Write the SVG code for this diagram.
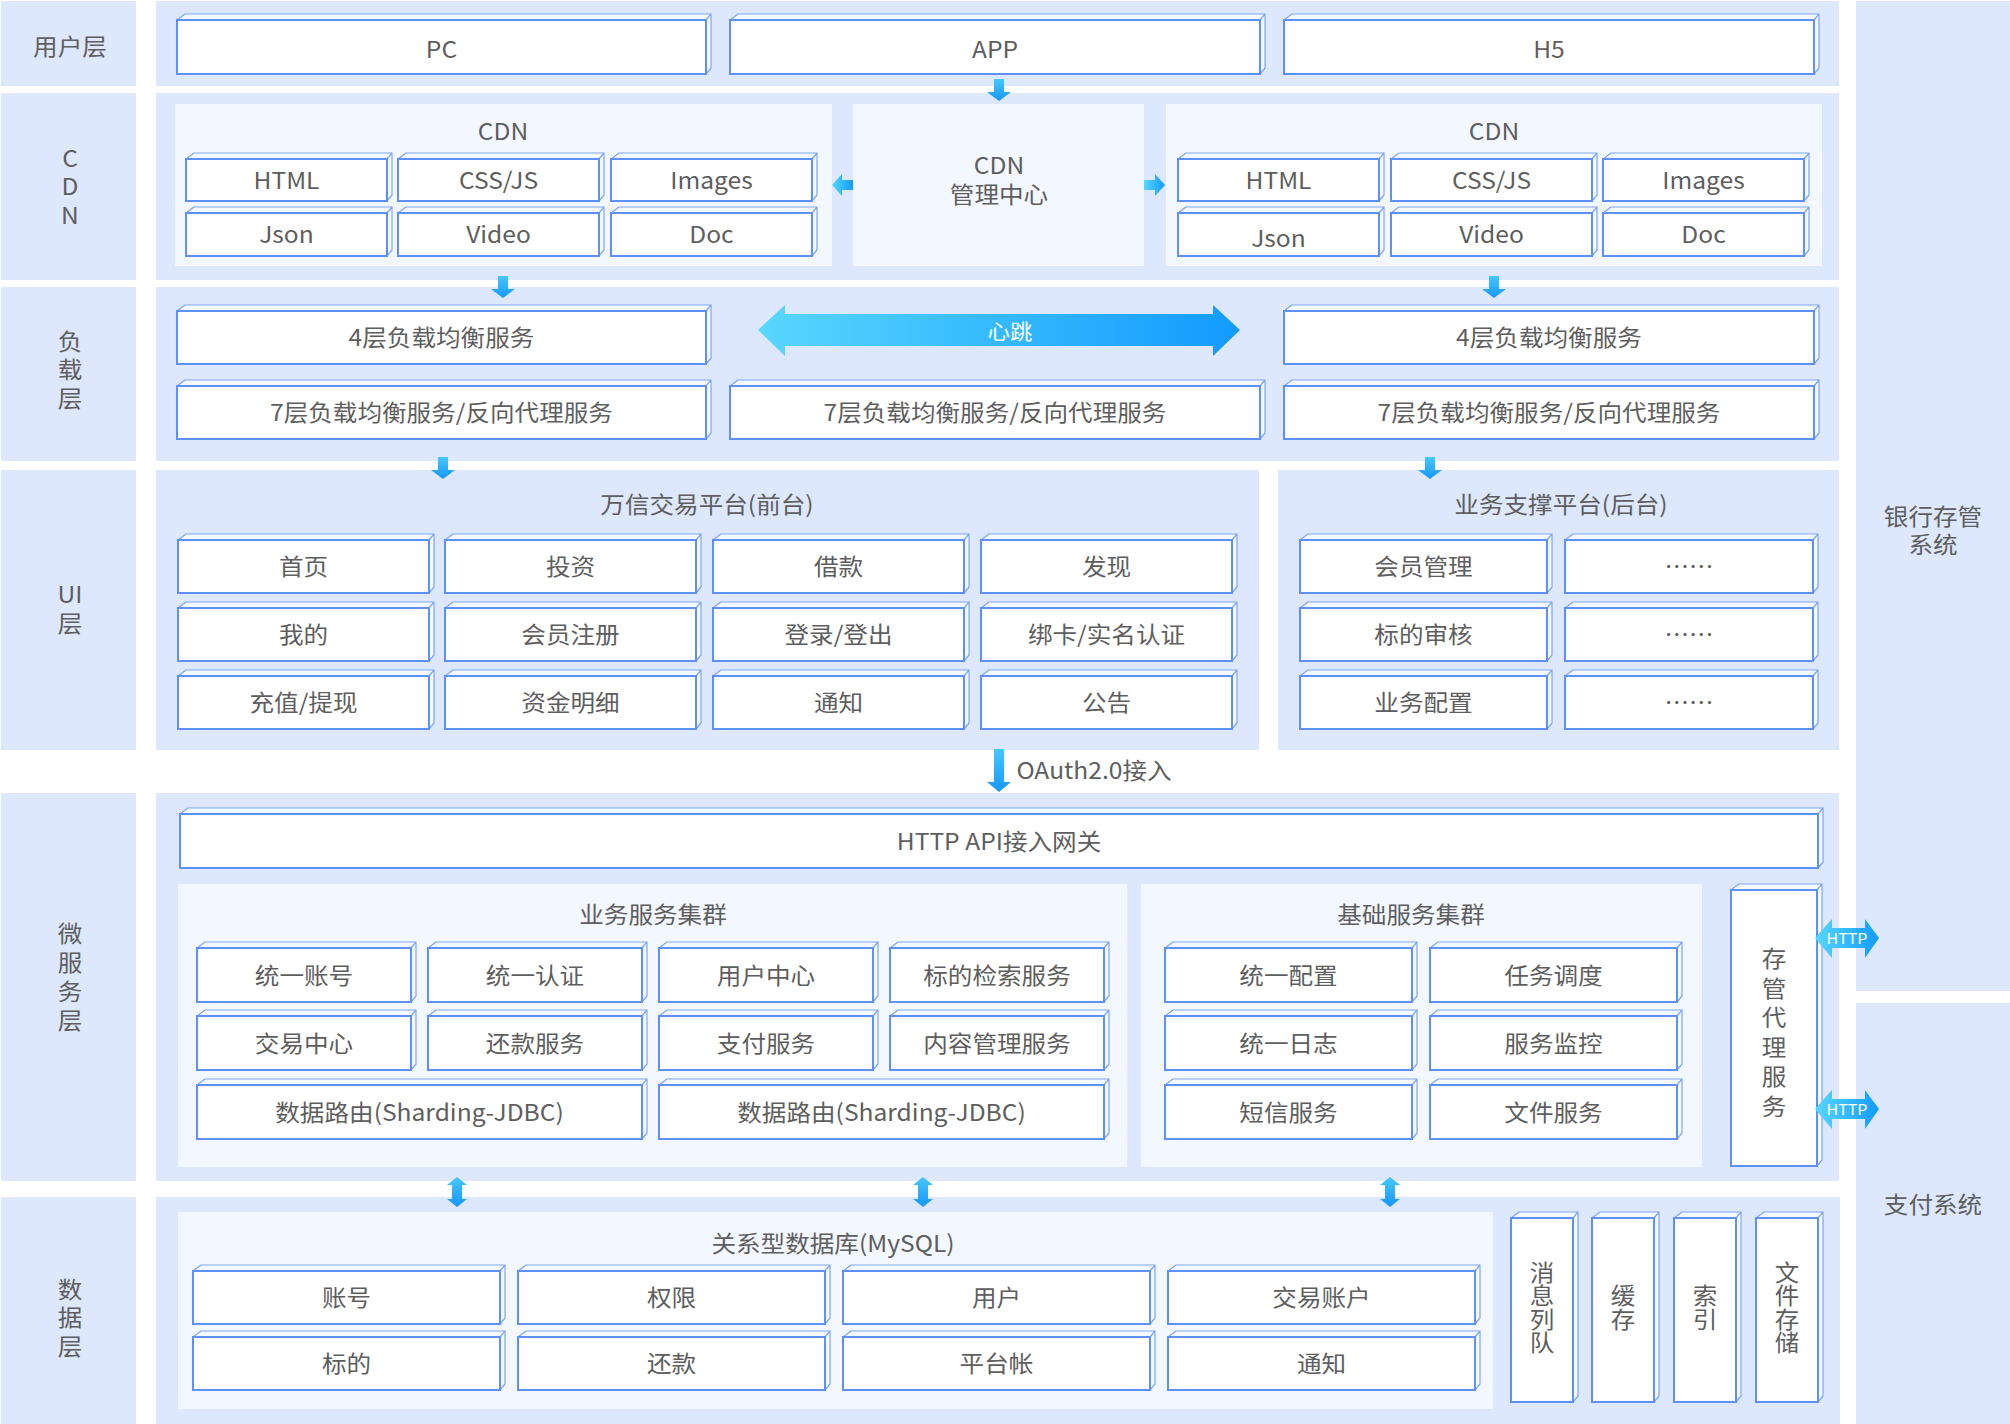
<svg xmlns="http://www.w3.org/2000/svg" width="2010" height="1424" viewBox="0 0 2010 1424">
<style>
.p{fill:#dde7fd}
.q{fill:#f3f7ff}
.b{fill:#fff;stroke:#5d90f8;stroke-width:2}
.f{fill:#f4f8ff;stroke:#7ea6f9;stroke-width:1.2;stroke-linejoin:round}
.t{font-family:"Noto Sans CJK SC","Noto Sans",sans-serif;font-size:23px;fill:#5e5e5e;text-anchor:middle;dominant-baseline:central;transform-box:fill-box;transform-origin:center;transform:translateY(-1.5px) scaleX(1.07)}
.v{writing-mode:vertical-rl;text-orientation:upright;letter-spacing:5.8px}
.vs{writing-mode:vertical-rl;text-orientation:upright;letter-spacing:6.6px}
.vd{writing-mode:vertical-rl;text-orientation:upright;letter-spacing:0.5px}
.w{fill:#fff;font-size:21px}
.h{fill:#fff;font-size:15px}
.av{fill:url(#gv)}
.ah{fill:url(#gh)}
</style>
<defs>
<linearGradient id="gv" x1="0" y1="0" x2="0" y2="1"><stop offset="0" stop-color="#45c8fd"/><stop offset="1" stop-color="#1696fe"/></linearGradient>
<linearGradient id="gh" x1="0" y1="0" x2="1" y2="0"><stop offset="0" stop-color="#58d7fe"/><stop offset="1" stop-color="#129bff"/></linearGradient>
</defs>
<rect width="2010" height="1424" fill="#fff"/>
<g id="panels">
<rect class="p" x="1" y="1" width="135" height="85"/>
<rect class="p" x="1" y="93" width="135" height="187"/>
<rect class="p" x="1" y="287" width="135" height="174"/>
<rect class="p" x="1" y="470" width="135" height="280"/>
<rect class="p" x="1" y="793" width="135" height="388"/>
<rect class="p" x="1" y="1197" width="135" height="227"/>
<rect class="p" x="156" y="1" width="1683" height="85"/>
<rect class="p" x="156" y="93" width="1683" height="187"/>
<rect class="p" x="156" y="287" width="1683" height="174"/>
<rect class="p" x="156" y="470" width="1103" height="280"/>
<rect class="p" x="1278" y="470" width="561" height="280"/>
<rect class="p" x="156" y="793" width="1683" height="388"/>
<rect class="p" x="156" y="1197" width="1684" height="227"/>
<rect class="p" x="1856" y="1" width="154" height="990"/>
<rect class="p" x="1856" y="1003" width="154" height="421"/>
<rect class="q" x="175" y="104" width="657" height="162"/>
<rect class="q" x="853" y="104" width="291" height="162"/>
<rect class="q" x="1166" y="104" width="656" height="162"/>
<rect class="q" x="178" y="884" width="949" height="283"/>
<rect class="q" x="1141" y="884" width="561" height="283"/>
<rect class="q" x="178" y="1212" width="1315" height="197"/>
</g>
<g id="layer-labels">
<text class="t" x="70" y="46">用户层</text>
<text class="t v" x="70" y="191">CDN</text>
<text class="t v" x="70" y="374">负载层</text>
<text class="t" x="70" y="594">UI</text>
<text class="t" x="70" y="623">层</text>
<text class="t v" x="70" y="981">微服务层</text>
<text class="t v" x="70" y="1322">数据层</text>
<text class="t" x="1933" y="516">银行存管</text>
<text class="t" x="1933" y="544">系统</text>
<text class="t" x="1933" y="1204">支付系统</text>
</g>
<g id="titles">
<text class="t" x="503" y="131">CDN</text>
<text class="t" x="1494" y="131">CDN</text>
<text class="t" x="999" y="165">CDN</text>
<text class="t" x="999" y="194">管理中心</text>
<text class="t" x="707" y="504">万信交易平台(前台)</text>
<text class="t" x="1561" y="504">业务支撑平台(后台)</text>
<text class="t" x="653" y="914">业务服务集群</text>
<text class="t" x="1411" y="914">基础服务集群</text>
<text class="t" x="833" y="1243">关系型数据库(MySQL)</text>
</g>
<g id="user-layer">
<g id="n-pc"><path class="f" d="M177,20l8,-6H711l-5,6zM706,20l5,-6v54l-5,6z"/><rect class="b" x="177" y="20" width="529" height="54"/><text class="t" x="441.5" y="49.5">PC</text></g>
<g id="n-app"><path class="f" d="M730,20l8,-6H1265l-5,6zM1260,20l5,-6v54l-5,6z"/><rect class="b" x="730" y="20" width="530" height="54"/><text class="t" x="995" y="49.5">APP</text></g>
<g id="n-h5"><path class="f" d="M1284,20l8,-6H1819l-5,6zM1814,20l5,-6v54l-5,6z"/><rect class="b" x="1284" y="20" width="530" height="54"/><text class="t" x="1549" y="49.5">H5</text></g>
</g>
<g id="cdn-layer">
<g id="n-html-l"><path class="f" d="M186,159l8,-6H392l-5,6zM387,159l5,-6v42l-5,6z"/><rect class="b" x="186" y="159" width="201" height="42"/><text class="t" x="286.5" y="180">HTML</text></g>
<g id="n-css-l"><path class="f" d="M398,159l8,-6H604l-5,6zM599,159l5,-6v42l-5,6z"/><rect class="b" x="398" y="159" width="201" height="42"/><text class="t" x="498.5" y="180">CSS/JS</text></g>
<g id="n-img-l"><path class="f" d="M611,159l8,-6H817l-5,6zM812,159l5,-6v42l-5,6z"/><rect class="b" x="611" y="159" width="201" height="42"/><text class="t" x="711.5" y="180">Images</text></g>
<g id="n-json-l"><path class="f" d="M186,213l8,-6H392l-5,6zM387,213l5,-6v43l-5,6z"/><rect class="b" x="186" y="213" width="201" height="43"/><text class="t" x="286.5" y="234.5">Json</text></g>
<g id="n-video-l"><path class="f" d="M398,213l8,-6H604l-5,6zM599,213l5,-6v43l-5,6z"/><rect class="b" x="398" y="213" width="201" height="43"/><text class="t" x="498.5" y="234.5">Video</text></g>
<g id="n-doc-l"><path class="f" d="M611,213l8,-6H817l-5,6zM812,213l5,-6v43l-5,6z"/><rect class="b" x="611" y="213" width="201" height="43"/><text class="t" x="711.5" y="234.5">Doc</text></g>
<g id="n-html-r"><path class="f" d="M1178,159l8,-6H1384l-5,6zM1379,159l5,-6v42l-5,6z"/><rect class="b" x="1178" y="159" width="201" height="42"/><text class="t" x="1278.5" y="180">HTML</text></g>
<g id="n-css-r"><path class="f" d="M1391,159l8,-6H1597l-5,6zM1592,159l5,-6v42l-5,6z"/><rect class="b" x="1391" y="159" width="201" height="42"/><text class="t" x="1491.5" y="180">CSS/JS</text></g>
<g id="n-img-r"><path class="f" d="M1603,159l8,-6H1809l-5,6zM1804,159l5,-6v42l-5,6z"/><rect class="b" x="1603" y="159" width="201" height="42"/><text class="t" x="1703.5" y="180">Images</text></g>
<g id="n-json-r"><path class="f" d="M1178,213l8,-6H1384l-5,6zM1379,213l5,-6v43l-5,6z"/><rect class="b" x="1178" y="213" width="201" height="43"/><text class="t" x="1278.5" y="238">Json</text></g>
<g id="n-video-r"><path class="f" d="M1391,213l8,-6H1597l-5,6zM1592,213l5,-6v43l-5,6z"/><rect class="b" x="1391" y="213" width="201" height="43"/><text class="t" x="1491.5" y="234.5">Video</text></g>
<g id="n-doc-r"><path class="f" d="M1603,213l8,-6H1809l-5,6zM1804,213l5,-6v43l-5,6z"/><rect class="b" x="1603" y="213" width="201" height="43"/><text class="t" x="1703.5" y="234.5">Doc</text></g>
</g>
<g id="load-layer">
<g id="n-l4-l"><path class="f" d="M177,311l8,-6H711l-5,6zM706,311l5,-6v53l-5,6z"/><rect class="b" x="177" y="311" width="529" height="53"/><text class="t" x="441.5" y="337.5">4层负载均衡服务</text></g>
<g id="n-l7-l"><path class="f" d="M177,386l8,-6H711l-5,6zM706,386l5,-6v53l-5,6z"/><rect class="b" x="177" y="386" width="529" height="53"/><text class="t" x="441.5" y="412.5">7层负载均衡服务/反向代理服务</text></g>
<g id="n-l7-m"><path class="f" d="M730,386l8,-6H1265l-5,6zM1260,386l5,-6v53l-5,6z"/><rect class="b" x="730" y="386" width="530" height="53"/><text class="t" x="995" y="412.5">7层负载均衡服务/反向代理服务</text></g>
<g id="n-l4-r"><path class="f" d="M1284,311l8,-6H1819l-5,6zM1814,311l5,-6v53l-5,6z"/><rect class="b" x="1284" y="311" width="530" height="53"/><text class="t" x="1549" y="337.5">4层负载均衡服务</text></g>
<g id="n-l7-r"><path class="f" d="M1284,386l8,-6H1819l-5,6zM1814,386l5,-6v53l-5,6z"/><rect class="b" x="1284" y="386" width="530" height="53"/><text class="t" x="1549" y="412.5">7层负载均衡服务/反向代理服务</text></g>
</g>
<g id="ui-layer">
<g id="n-ui1"><path class="f" d="M178,540l8,-6H434l-5,6zM429,540l5,-6v53l-5,6z"/><rect class="b" x="178" y="540" width="251" height="53"/><text class="t" x="303.5" y="566.5">首页</text></g>
<g id="n-ui2"><path class="f" d="M445,540l8,-6H701l-5,6zM696,540l5,-6v53l-5,6z"/><rect class="b" x="445" y="540" width="251" height="53"/><text class="t" x="570.5" y="566.5">投资</text></g>
<g id="n-ui3"><path class="f" d="M713,540l8,-6H969l-5,6zM964,540l5,-6v53l-5,6z"/><rect class="b" x="713" y="540" width="251" height="53"/><text class="t" x="838.5" y="566.5">借款</text></g>
<g id="n-ui4"><path class="f" d="M981,540l8,-6H1237l-5,6zM1232,540l5,-6v53l-5,6z"/><rect class="b" x="981" y="540" width="251" height="53"/><text class="t" x="1106.5" y="566.5">发现</text></g>
<g id="n-ui5"><path class="f" d="M178,608l8,-6H434l-5,6zM429,608l5,-6v53l-5,6z"/><rect class="b" x="178" y="608" width="251" height="53"/><text class="t" x="303.5" y="634.5">我的</text></g>
<g id="n-ui6"><path class="f" d="M445,608l8,-6H701l-5,6zM696,608l5,-6v53l-5,6z"/><rect class="b" x="445" y="608" width="251" height="53"/><text class="t" x="570.5" y="634.5">会员注册</text></g>
<g id="n-ui7"><path class="f" d="M713,608l8,-6H969l-5,6zM964,608l5,-6v53l-5,6z"/><rect class="b" x="713" y="608" width="251" height="53"/><text class="t" x="838.5" y="634.5">登录/登出</text></g>
<g id="n-ui8"><path class="f" d="M981,608l8,-6H1237l-5,6zM1232,608l5,-6v53l-5,6z"/><rect class="b" x="981" y="608" width="251" height="53"/><text class="t" x="1106.5" y="634.5">绑卡/实名认证</text></g>
<g id="n-ui9"><path class="f" d="M178,676l8,-6H434l-5,6zM429,676l5,-6v53l-5,6z"/><rect class="b" x="178" y="676" width="251" height="53"/><text class="t" x="303.5" y="702.5">充值/提现</text></g>
<g id="n-ui10"><path class="f" d="M445,676l8,-6H701l-5,6zM696,676l5,-6v53l-5,6z"/><rect class="b" x="445" y="676" width="251" height="53"/><text class="t" x="570.5" y="702.5">资金明细</text></g>
<g id="n-ui11"><path class="f" d="M713,676l8,-6H969l-5,6zM964,676l5,-6v53l-5,6z"/><rect class="b" x="713" y="676" width="251" height="53"/><text class="t" x="838.5" y="702.5">通知</text></g>
<g id="n-ui12"><path class="f" d="M981,676l8,-6H1237l-5,6zM1232,676l5,-6v53l-5,6z"/><rect class="b" x="981" y="676" width="251" height="53"/><text class="t" x="1106.5" y="702.5">公告</text></g>
<g id="n-bk1"><path class="f" d="M1300,540l8,-6H1552l-5,6zM1547,540l5,-6v53l-5,6z"/><rect class="b" x="1300" y="540" width="247" height="53"/><text class="t" x="1423.5" y="566.5">会员管理</text></g>
<g id="n-bk2"><path class="f" d="M1565,540l8,-6H1818l-5,6zM1813,540l5,-6v53l-5,6z"/><rect class="b" x="1565" y="540" width="248" height="53"/><text class="t" x="1689" y="566.5">……</text></g>
<g id="n-bk3"><path class="f" d="M1300,608l8,-6H1552l-5,6zM1547,608l5,-6v53l-5,6z"/><rect class="b" x="1300" y="608" width="247" height="53"/><text class="t" x="1423.5" y="634.5">标的审核</text></g>
<g id="n-bk4"><path class="f" d="M1565,608l8,-6H1818l-5,6zM1813,608l5,-6v53l-5,6z"/><rect class="b" x="1565" y="608" width="248" height="53"/><text class="t" x="1689" y="634.5">……</text></g>
<g id="n-bk5"><path class="f" d="M1300,676l8,-6H1552l-5,6zM1547,676l5,-6v53l-5,6z"/><rect class="b" x="1300" y="676" width="247" height="53"/><text class="t" x="1423.5" y="702.5">业务配置</text></g>
<g id="n-bk6"><path class="f" d="M1565,676l8,-6H1818l-5,6zM1813,676l5,-6v53l-5,6z"/><rect class="b" x="1565" y="676" width="248" height="53"/><text class="t" x="1689" y="702.5">……</text></g>
</g>
<g id="micro-layer">
<g id="n-gateway"><path class="f" d="M180,814l8,-6H1823l-5,6zM1818,814l5,-6v54l-5,6z"/><rect class="b" x="180" y="814" width="1638" height="54"/><text class="t" x="999" y="841">HTTP API接入网关</text></g>
<g id="n-ms1"><path class="f" d="M197,948l8,-6H416l-5,6zM411,948l5,-6v54l-5,6z"/><rect class="b" x="197" y="948" width="214" height="54"/><text class="t" x="304" y="975">统一账号</text></g>
<g id="n-ms2"><path class="f" d="M428,948l8,-6H647l-5,6zM642,948l5,-6v54l-5,6z"/><rect class="b" x="428" y="948" width="214" height="54"/><text class="t" x="535" y="975">统一认证</text></g>
<g id="n-ms3"><path class="f" d="M659,948l8,-6H878l-5,6zM873,948l5,-6v54l-5,6z"/><rect class="b" x="659" y="948" width="214" height="54"/><text class="t" x="766" y="975">用户中心</text></g>
<g id="n-ms4"><path class="f" d="M890,948l8,-6H1109l-5,6zM1104,948l5,-6v54l-5,6z"/><rect class="b" x="890" y="948" width="214" height="54"/><text class="t" x="997" y="975">标的检索服务</text></g>
<g id="n-ms5"><path class="f" d="M197,1016l8,-6H416l-5,6zM411,1016l5,-6v54l-5,6z"/><rect class="b" x="197" y="1016" width="214" height="54"/><text class="t" x="304" y="1043">交易中心</text></g>
<g id="n-ms6"><path class="f" d="M428,1016l8,-6H647l-5,6zM642,1016l5,-6v54l-5,6z"/><rect class="b" x="428" y="1016" width="214" height="54"/><text class="t" x="535" y="1043">还款服务</text></g>
<g id="n-ms7"><path class="f" d="M659,1016l8,-6H878l-5,6zM873,1016l5,-6v54l-5,6z"/><rect class="b" x="659" y="1016" width="214" height="54"/><text class="t" x="766" y="1043">支付服务</text></g>
<g id="n-ms8"><path class="f" d="M890,1016l8,-6H1109l-5,6zM1104,1016l5,-6v54l-5,6z"/><rect class="b" x="890" y="1016" width="214" height="54"/><text class="t" x="997" y="1043">内容管理服务</text></g>
<g id="n-ms9"><path class="f" d="M197,1085l8,-6H647l-5,6zM642,1085l5,-6v54l-5,6z"/><rect class="b" x="197" y="1085" width="445" height="54"/><text class="t" x="419.5" y="1112">数据路由(Sharding-JDBC)</text></g>
<g id="n-ms10"><path class="f" d="M659,1085l8,-6H1109l-5,6zM1104,1085l5,-6v54l-5,6z"/><rect class="b" x="659" y="1085" width="445" height="54"/><text class="t" x="881.5" y="1112">数据路由(Sharding-JDBC)</text></g>
<g id="n-bs1"><path class="f" d="M1165,948l8,-6H1417l-5,6zM1412,948l5,-6v54l-5,6z"/><rect class="b" x="1165" y="948" width="247" height="54"/><text class="t" x="1288.5" y="975">统一配置</text></g>
<g id="n-bs2"><path class="f" d="M1430,948l8,-6H1682l-5,6zM1677,948l5,-6v54l-5,6z"/><rect class="b" x="1430" y="948" width="247" height="54"/><text class="t" x="1553.5" y="975">任务调度</text></g>
<g id="n-bs3"><path class="f" d="M1165,1016l8,-6H1417l-5,6zM1412,1016l5,-6v54l-5,6z"/><rect class="b" x="1165" y="1016" width="247" height="54"/><text class="t" x="1288.5" y="1043">统一日志</text></g>
<g id="n-bs4"><path class="f" d="M1430,1016l8,-6H1682l-5,6zM1677,1016l5,-6v54l-5,6z"/><rect class="b" x="1430" y="1016" width="247" height="54"/><text class="t" x="1553.5" y="1043">服务监控</text></g>
<g id="n-bs5"><path class="f" d="M1165,1085l8,-6H1417l-5,6zM1412,1085l5,-6v54l-5,6z"/><rect class="b" x="1165" y="1085" width="247" height="54"/><text class="t" x="1288.5" y="1112">短信服务</text></g>
<g id="n-bs6"><path class="f" d="M1430,1085l8,-6H1682l-5,6zM1677,1085l5,-6v54l-5,6z"/><rect class="b" x="1430" y="1085" width="247" height="54"/><text class="t" x="1553.5" y="1112">文件服务</text></g>
<g id="n-custody"><path class="f" d="M1731,890l8,-6H1822l-5,6zM1817,890l5,-6v276l-5,6z"/><rect class="b" x="1731" y="890" width="86" height="276"/><text class="t vs" x="1774" y="1037">存管代理服务</text></g>
</g>
<g id="data-layer">
<g id="n-db1"><path class="f" d="M193,1271l8,-6H505l-5,6zM500,1271l5,-6v53l-5,6z"/><rect class="b" x="193" y="1271" width="307" height="53"/><text class="t" x="346.5" y="1297.5">账号</text></g>
<g id="n-db2"><path class="f" d="M518,1271l8,-6H830l-5,6zM825,1271l5,-6v53l-5,6z"/><rect class="b" x="518" y="1271" width="307" height="53"/><text class="t" x="671.5" y="1297.5">权限</text></g>
<g id="n-db3"><path class="f" d="M843,1271l8,-6H1155l-5,6zM1150,1271l5,-6v53l-5,6z"/><rect class="b" x="843" y="1271" width="307" height="53"/><text class="t" x="996.5" y="1297.5">用户</text></g>
<g id="n-db4"><path class="f" d="M1168,1271l8,-6H1480l-5,6zM1475,1271l5,-6v53l-5,6z"/><rect class="b" x="1168" y="1271" width="307" height="53"/><text class="t" x="1321.5" y="1297.5">交易账户</text></g>
<g id="n-db5"><path class="f" d="M193,1337l8,-6H505l-5,6zM500,1337l5,-6v53l-5,6z"/><rect class="b" x="193" y="1337" width="307" height="53"/><text class="t" x="346.5" y="1363.5">标的</text></g>
<g id="n-db6"><path class="f" d="M518,1337l8,-6H830l-5,6zM825,1337l5,-6v53l-5,6z"/><rect class="b" x="518" y="1337" width="307" height="53"/><text class="t" x="671.5" y="1363.5">还款</text></g>
<g id="n-db7"><path class="f" d="M843,1337l8,-6H1155l-5,6zM1150,1337l5,-6v53l-5,6z"/><rect class="b" x="843" y="1337" width="307" height="53"/><text class="t" x="996.5" y="1363.5">平台帐</text></g>
<g id="n-db8"><path class="f" d="M1168,1337l8,-6H1480l-5,6zM1475,1337l5,-6v53l-5,6z"/><rect class="b" x="1168" y="1337" width="307" height="53"/><text class="t" x="1321.5" y="1363.5">通知</text></g>
<g id="n-mq"><path class="f" d="M1511,1218l8,-6H1578l-5,6zM1573,1218l5,-6v184l-5,6z"/><rect class="b" x="1511" y="1218" width="62" height="184"/><text class="t vd" x="1542" y="1309">消息列队</text></g>
<g id="n-cache"><path class="f" d="M1592,1218l8,-6H1659l-5,6zM1654,1218l5,-6v184l-5,6z"/><rect class="b" x="1592" y="1218" width="62" height="184"/><text class="t vd" x="1623" y="1309">缓存</text></g>
<g id="n-index"><path class="f" d="M1674,1218l8,-6H1741l-5,6zM1736,1218l5,-6v184l-5,6z"/><rect class="b" x="1674" y="1218" width="62" height="184"/><text class="t vd" x="1705" y="1309">索引</text></g>
<g id="n-file"><path class="f" d="M1756,1218l8,-6H1823l-5,6zM1818,1218l5,-6v184l-5,6z"/><rect class="b" x="1756" y="1218" width="62" height="184"/><text class="t vd" x="1787" y="1309">文件存储</text></g>
</g>
<g id="connectors">
<path class="av" d="M994,79h10v13h7l-12,9l-12,-9h7z"/>
<path class="av" d="M498,276h10v13h7l-12,9l-12,-9h7z"/>
<path class="av" d="M1489,276h10v13h7l-12,9l-12,-9h7z"/>
<path class="av" d="M438,457h10v13h7l-12,9l-12,-9h7z"/>
<path class="av" d="M1425,457h10v13h7l-12,9l-12,-9h7z"/>
<path class="ah" d="M853,180v10h-11v6l-10,-11l10,-11v6z"/>
<path class="ah" d="M1144,180v10h11v6l10,-11l-10,-11v6z"/>
<path class="ah" d="M758,330L785,305V314H1213V305L1240,330L1213,356V346H785V356Z"/>
<text class="t w" x="1010" y="331">心跳</text>
<path class="av" d="M994,749h10v33h7l-12,10l-12,-10h7z"/>
<text class="t" x="1094" y="770">OAuth2.0接入</text>
<path class="ah" d="M1815,938L1832,919V928H1865V919L1879,938L1865,958V948H1832V958Z"/>
<text class="t h" x="1847" y="939">HTTP</text>
<path class="ah" d="M1815,1109L1832,1090V1099H1865V1090L1879,1109L1865,1129V1119H1832V1129Z"/>
<text class="t h" x="1847" y="1110">HTTP</text>
<path class="av" d="M457,1177l10,8h-5v14h5l-10,8l-10,-8h5v-14h-5z"/>
<path class="av" d="M923,1177l10,8h-5v14h5l-10,8l-10,-8h5v-14h-5z"/>
<path class="av" d="M1390,1177l10,8h-5v14h5l-10,8l-10,-8h5v-14h-5z"/>
</g>
</svg>
